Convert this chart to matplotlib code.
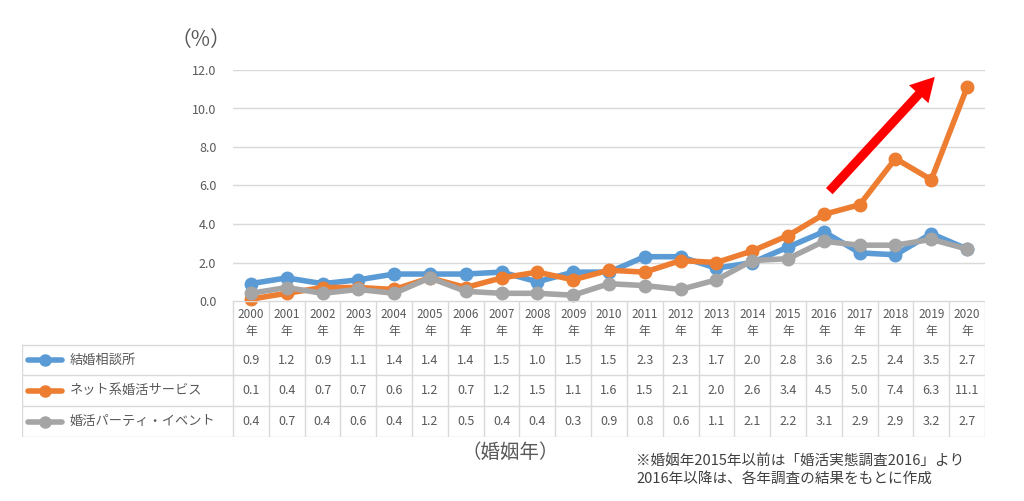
import matplotlib
matplotlib.use("Agg")
import matplotlib.pyplot as plt

plt.rcParams['font.family'] = ['Noto Sans CJK JP', 'DejaVu Sans']

years = list(range(2000, 2021))
series_names = ["結婚相談所", "ネット系婚活サービス", "婚活パーティ・イベント"]
soudanjo = [0.9, 1.2, 0.9, 1.1, 1.4, 1.4, 1.4, 1.5, 1.0, 1.5, 1.5,
            2.3, 2.3, 1.7, 2.0, 2.8, 3.6, 2.5, 2.4, 3.5, 2.7]
net = [0.1, 0.4, 0.7, 0.7, 0.6, 1.2, 0.7, 1.2, 1.5, 1.1, 1.6,
       1.5, 2.1, 2.0, 2.6, 3.4, 4.5, 5.0, 7.4, 6.3, 11.1]
party = [0.4, 0.7, 0.4, 0.6, 0.4, 1.2, 0.5, 0.4, 0.4, 0.3, 0.9,
         0.8, 0.6, 1.1, 2.1, 2.2, 3.1, 2.9, 2.9, 3.2, 2.7]
colors = ["#5b9bd5", "#ed7d31", "#a5a5a5"]
yticks = [0, 2, 4, 6, 8, 10, 12]

W, H = 1024, 501
fig = plt.figure(figsize=(W / 100, H / 100), dpi=100)


def px(x0, y0, x1, y1):
    return [x0 / W, 1 - y1 / H, (x1 - x0) / W, (y1 - y0) / H]


ax = fig.add_axes(px(233, 70, 985, 301))
xs = list(range(len(years)))
data = [soudanjo, net, party]
for vals, c in zip(data, colors):
    ax.plot(xs, vals, color=c, lw=4, marker="o", ms=9, clip_on=False)

ax.set_xlim(-0.5, len(years) - 0.5)
ax.set_ylim(0, 12)
ax.set_yticks(yticks)
ax.set_yticklabels([f"{v:.1f}" for v in yticks], color="#595959", fontsize=9)
ax.tick_params(axis="y", length=0, pad=12)
ax.set_xticks([])
ax.grid(axis="y", color="#d9d9d9", lw=1)
ax.set_axisbelow(True)
for s in ax.spines.values():
    s.set_visible(False)

# red trend arrow
ax.annotate("", xy=(19.15, 11.75), xytext=(16.1, 5.6),
            arrowprops=dict(arrowstyle="simple,head_length=1.7,head_width=1.9,tail_width=0.65",
                            color="#ff0000", lw=0), annotation_clip=False)

fig.text(201 / W, 1 - 40 / H, "（%）", fontsize=15, color="#595959",
         ha="center", va="center")

# data table under the chart
tax = fig.add_axes(px(22, 301, 985, 437))
tax.set_xlim(22, 985)
tax.set_ylim(437, 301)
tax.axis("off")
line_c = "#d9d9d9"
col_w = (985 - 233) / len(years)
row_edges = [301, 345, 375, 406, 437]
for i in range(len(years) + 1):
    xv = 233 + i * col_w
    tax.plot([xv, xv], [301, 437], color=line_c, lw=1)
tax.plot([22, 22], [345, 437], color=line_c, lw=1)
tax.plot([233, 985], [301, 301], color=line_c, lw=1)
for yv in row_edges[1:]:
    tax.plot([22, 985], [yv, yv], color=line_c, lw=1)

for i, y in enumerate(years):
    tax.text(233 + (i + 0.5) * col_w, 323, f"{y}\n年", ha="center",
             va="center", fontsize=8.5, color="#595959", linespacing=1.5)

for r, (name, vals, c) in enumerate(zip(series_names, data, colors)):
    yc = (row_edges[r + 1] + row_edges[r + 2]) / 2
    tax.plot([28, 62], [yc, yc], color=c, lw=4, solid_capstyle="round")
    tax.plot([45], [yc], color=c, marker="o", ms=8)
    tax.text(70, yc, name, ha="left", va="center", fontsize=9.5,
             color="#595959")
    for i, v in enumerate(vals):
        tax.text(233 + (i + 0.5) * col_w, yc, f"{v:.1f}", ha="center",
                 va="center", fontsize=9, color="#595959")

fig.text(510 / W, 1 - 452 / H, "（婚姻年）", fontsize=14, color="#595959",
         ha="center", va="center")
fig.text(636 / W, 1 - 461 / H, "※婚姻年2015年以前は「婚活実態調査2016」より",
         fontsize=10.5, color="#404040", ha="left", va="center")
fig.text(636 / W, 1 - 479 / H, "2016年以降は、各年調査の結果をもとに作成",
         fontsize=10.5, color="#404040", ha="left", va="center")

fig.savefig("out.png", dpi=100)
